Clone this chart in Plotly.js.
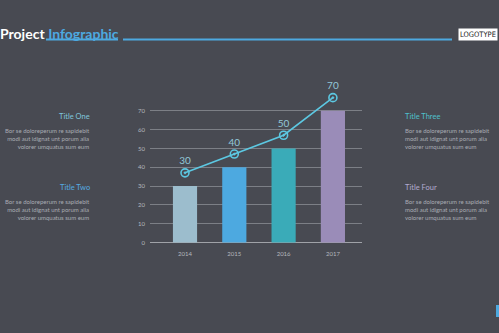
<!DOCTYPE html>
<html><head><meta charset="utf-8">
<script src="https://cdn.plot.ly/plotly-3.0.1.min.js"></script>
<style>html,body{margin:0;padding:0;background:#484a52;}#chart{width:499px;height:333px;}</style>
</head><body><div id="chart"></div>
<script>
var years = ['2014', '2015', '2016', '2017'];
var barValues = [30, 40, 50, 70];
var lineValues = [37, 47, 57, 77];
var lineLabels = ['30', '40', '50', '70'];
var barColors = ['#9cbdcd', '#4da9e0', '#3aabb8', '#9a8cb8'];
var yTicks = [0, 10, 20, 30, 40, 50, 60, 70];
var sideTitles = ['Title One', 'Title Two', 'Title Three', 'Title Four'];
var sideTitleColors = ['#7fc6dc', '#55ace2', '#4fc0cc', '#b2aacf'];
var bodyText = 'Bor se doloreperum re sapidebit<br>modi aut idignat unt porum alia<br>volorer umquatus sum eum';

var W = 499, H = 333;
var M = {l: 150, r: 137, t: 92, b: 90};
function px(x) { return (x - M.l) / (W - M.l - M.r); }
function py(y) { return 1 - (y - M.t) / (H - M.t - M.b); }

var bars = {
  type: 'bar', x: years, y: barValues,
  marker: {color: barColors, line: {width: 0}},
  width: 0.49, hoverinfo: 'skip'
};
var line = {
  type: 'scatter', mode: 'lines+markers+text', x: years, y: lineValues,
  text: lineLabels, textposition: 'top center',
  textfont: {family: 'Lato, sans-serif', size: 10, color: '#93c8d8'},
  line: {color: '#5cc8e2', width: 1.6},
  marker: {symbol: 'circle-open-dot', size: 8, color: '#5cc8e2', line: {width: 1.6, color: '#5cc8e2'}},
  cliponaxis: false, hoverinfo: 'skip'
};

var ann = [];
ann.push({xref: 'paper', yref: 'paper', x: px(-2.5), y: py(33), xanchor: 'left', yanchor: 'middle', showarrow: false,
  text: '<b>Project</b> <b><span style="color:#4da9e0">Infographic</span></b>',
  font: {family: 'Lato, sans-serif', size: 14, color: '#ffffff'}});
ann.push({xref: 'paper', yref: 'paper', x: px(477.5), y: py(34), xanchor: 'center', yanchor: 'middle', showarrow: false,
  text: 'LOGOTYPE', bgcolor: '#ffffff', borderpad: 1,
  font: {family: 'DejaVu Sans Condensed, Liberation Sans Narrow, sans-serif', size: 7.5, color: '#222222'}});
var sides = [
  {x: 92, y: 116, anchor: 'right'},
  {x: 92, y: 187, anchor: 'right'},
  {x: 403, y: 116, anchor: 'left'},
  {x: 403, y: 187, anchor: 'left'}
];
for (var i = 0; i < 4; i++) {
  ann.push({xref: 'paper', yref: 'paper', x: px(sides[i].x), y: py(sides[i].y), xanchor: sides[i].anchor, yanchor: 'middle',
    showarrow: false, text: sideTitles[i], align: sides[i].anchor,
    font: {family: 'Lato, sans-serif', size: 7.5, color: sideTitleColors[i]}});
  ann.push({xref: 'paper', yref: 'paper', x: px(sides[i].x), y: py(sides[i].y + 9), xanchor: sides[i].anchor, yanchor: 'top',
    showarrow: false, text: bodyText, align: sides[i].anchor,
    font: {family: 'Lato, sans-serif', size: 6, color: '#a9acb3'}});
}

var shapes = [
  {type: 'line', xref: 'paper', yref: 'paper', x0: px(46), x1: px(118), y0: py(39.5), y1: py(39.5), line: {color: '#4da9e0', width: 2}},
  {type: 'line', xref: 'paper', yref: 'paper', x0: px(123), x1: px(452), y0: py(39.5), y1: py(39.5), line: {color: '#4da9e0', width: 2}},
  {type: 'rect', xref: 'paper', yref: 'paper', x0: px(496), x1: px(500), y0: py(305), y1: py(317), fillcolor: '#4da9e0', line: {width: 0}}
];

var layout = {
  width: W, height: H, margin: M,
  paper_bgcolor: '#484a52', plot_bgcolor: '#484a52',
  showlegend: false,
  xaxis: {type: 'category', range: [-0.71, 3.59], showgrid: false, zeroline: false, showline: false, ticks: '',
    tickfont: {family: 'Lato, sans-serif', size: 6, color: '#b5b8be'}, ticklabelstandoff: 6, fixedrange: true},
  yaxis: {range: [-0.3, 80], tickvals: yTicks, showgrid: true, gridcolor: '#7c7f86', gridwidth: 1,
    zeroline: true, zerolinecolor: '#a0a2a8', zerolinewidth: 1.2, showline: false, ticks: '',
    tickfont: {family: 'Lato, sans-serif', size: 6, color: '#b5b8be'}, ticklabelstandoff: 4, fixedrange: true},
  annotations: ann, shapes: shapes
};
Plotly.newPlot('chart', [bars, line], layout, {staticPlot: true, displayModeBar: false});
</script></body></html>
